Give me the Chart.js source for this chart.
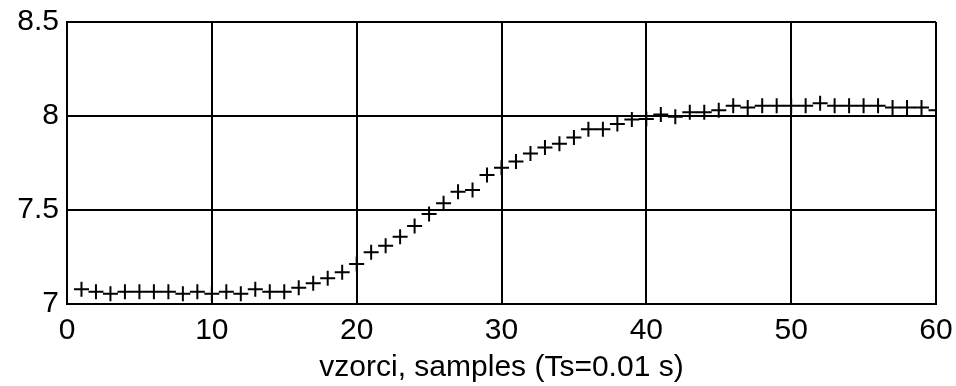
<!DOCTYPE html>
<html>
<head>
<meta charset="utf-8">
<script src="https://cdn.jsdelivr.net/npm/chart.js@4/dist/chart.umd.min.js"></script>
<style>
  html, body { margin: 0; padding: 0; background: #fff; }
  #wrap { width: 956px; height: 386px; }
</style>
</head>
<body>
<div id="wrap"><canvas id="c" width="956" height="386"></canvas></div>
<script>
// sample index 1..60
var samples = [];
for (var i = 1; i <= 60; i++) samples.push(i);

var values = [
  7.078, 7.065, 7.055, 7.065, 7.065, 7.065, 7.065, 7.055, 7.065, 7.055,
  7.065, 7.055, 7.078, 7.065, 7.065, 7.087, 7.110, 7.137, 7.169, 7.213,
  7.275, 7.310, 7.358, 7.415, 7.479, 7.536, 7.597, 7.606, 7.686, 7.725,
  7.758, 7.800, 7.833, 7.853, 7.885, 7.929, 7.929, 7.957, 7.982, 7.984,
  8.008, 7.996, 8.020, 8.020, 8.030, 8.055, 8.045, 8.055, 8.055, 8.055,
  8.055, 8.068, 8.055, 8.055, 8.055, 8.055, 8.045, 8.045, 8.045, 8.030
];

var xTicks = [0, 10, 20, 30, 40, 50, 60];
var yTicks = [7, 7.5, 8, 8.5];
var xTitle = 'vzorci, samples (Ts=0.01 s)';

var pts = samples.map(function (s, k) { return { x: s, y: values[k] }; });

var font = { family: 'Liberation Sans, Arial, sans-serif', size: 30 };

new Chart(document.getElementById('c').getContext('2d'), {
  type: 'scatter',
  data: {
    datasets: [{
      data: pts,
      showLine: false,
      pointStyle: 'cross',
      pointRadius: 7.5,
      pointHoverRadius: 7.5,
      pointBorderWidth: 2,
      borderColor: '#000',
      backgroundColor: '#000'
    }]
  },
  options: {
    responsive: false,
    animation: false,
    layout: { padding: { top: 22, right: 20, left: 0, bottom: 0 } },
    plugins: { legend: { display: false }, tooltip: { enabled: false } },
    scales: {
      x: {
        type: 'linear',
        min: xTicks[0],
        max: xTicks[xTicks.length - 1],
        afterBuildTicks: function (s) { s.ticks = xTicks.map(function (v) { return { value: v }; }); },
        afterFit: function (s) { s.height = 82; s.paddingLeft = 0; s.paddingRight = 0; },
        grid: { color: '#000', lineWidth: 2, drawTicks: false },
        border: { color: '#000', width: 2 },
        ticks: { color: '#000', font: font, padding: 9, maxRotation: 0,
                 callback: function (v) { return String(v); } },
        title: { display: true, text: xTitle, color: '#000', font: font,
                 padding: { top: 0, bottom: 0 } }
      },
      y: {
        type: 'linear',
        min: yTicks[0],
        max: yTicks[yTicks.length - 1],
        afterBuildTicks: function (s) { s.ticks = yTicks.map(function (v) { return { value: v }; }); },
        afterFit: function (s) { s.width = 67; s.paddingTop = 0; s.paddingBottom = 0; },
        grid: { color: '#000', lineWidth: 2, drawTicks: false },
        border: { color: '#000', width: 2 },
        ticks: { color: '#000', font: font, padding: 8,
                 callback: function (v) { return String(v); } }
      }
    }
  }
});
</script>
</body>
</html>
